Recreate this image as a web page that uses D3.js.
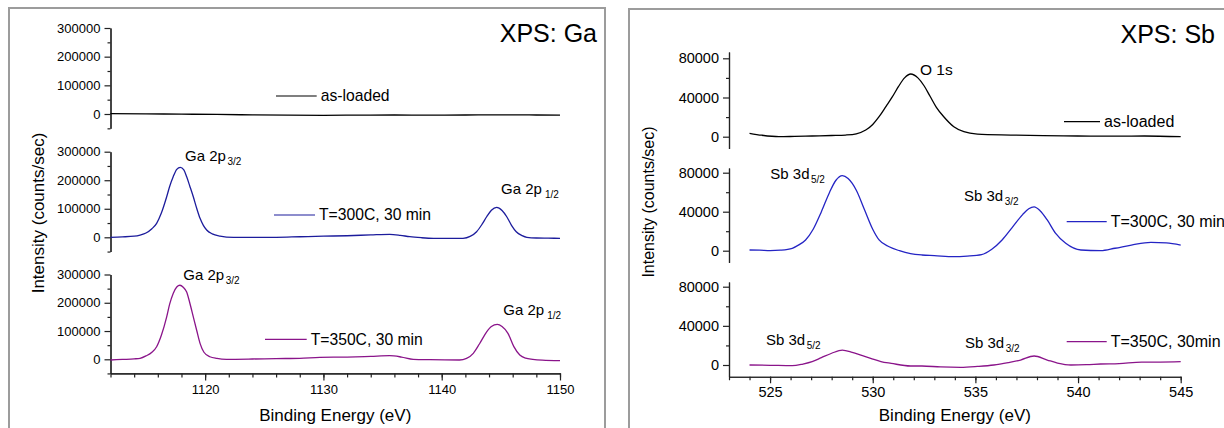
<!DOCTYPE html>
<html><head><meta charset="utf-8">
<script src="https://cdn.jsdelivr.net/npm/d3@7"></script>
<style>
body{margin:0;background:#fff}
svg{display:block}
text{font-family:"Liberation Sans",Arial,sans-serif;fill:#000}
</style>
</head><body>
<svg id="c" width="1224" height="428"></svg>
<script>
// ---------------- DATA ----------------
// Ga panel (binding energy in eV, intensity in counts/sec)
const gaTicksX = [1120, 1130, 1140, 1150];
const gaTicksY = [0, 100000, 200000, 300000];
const gaAsLoadedE = [1112, 1115, 1118, 1121, 1124, 1127, 1130, 1133, 1136, 1139, 1142, 1145, 1148, 1150];
const gaAsLoadedI = [1500, 500, -500, -1500, -3000, -4000, -4500, -4000, -3500, -4000, -3500, -3000, -3500, -4000];
const ga300E = [1112, 1113, 1114, 1114.5, 1115, 1115.5, 1115.9, 1116.3, 1116.75, 1117, 1117.3, 1117.6, 1117.9, 1118.2, 1118.44, 1118.7, 1119, 1119.3, 1119.57, 1119.85, 1120.13, 1120.6, 1121.26, 1122.4, 1124, 1126, 1128, 1130, 1132, 1134, 1135.6, 1136.5, 1137.3, 1138.3, 1139.3, 1141, 1141.8, 1142.4, 1142.95, 1143.4, 1143.8, 1144.2, 1144.65, 1145.1, 1145.5, 1145.9, 1146.3, 1146.8, 1147.2, 1148, 1149, 1150];
const ga300I = [0, 1500, 4000, 8000, 15000, 30000, 49000, 85000, 142000, 178000, 212000, 238000, 245000, 236000, 212000, 180000, 142000, 100000, 66500, 42000, 25600, 12000, 4500, 0, -500, 0, 2000, 4000, 5500, 8500, 10500, 7000, 2000, -1500, -3500, -4000, -3500, 3000, 19600, 45000, 72000, 95000, 105000, 94000, 72000, 42000, 19600, 6000, 0, -2500, -3000, -3500];
const ga350E = [1112, 1113, 1114, 1114.5, 1115, 1115.5, 1115.9, 1116.3, 1116.75, 1117, 1117.3, 1117.6, 1117.87, 1118.15, 1118.44, 1118.7, 1119, 1119.3, 1119.57, 1119.9, 1120.4, 1121, 1121.8, 1124, 1126, 1128, 1129.7, 1132, 1134, 1135.6, 1136.6, 1137.6, 1139, 1141.5, 1142.1, 1142.67, 1143.2, 1143.8, 1144.2, 1144.7, 1145.1, 1145.6, 1146.1, 1146.6, 1147.1, 1147.7, 1148.5, 1150];
const ga350I = [-2500, -500, 1500, 3500, 12000, 25000, 44500, 85000, 150000, 195000, 233000, 256000, 262000, 255000, 238000, 200000, 150000, 100000, 56500, 25000, 9000, 3000, 0, 1000, 2500, 3500, 7000, 8000, 10500, 12700, 8000, 0, -1500, -2500, 3000, 21000, 55000, 97000, 116000, 123500, 116000, 92000, 45000, 15000, 4000, 0, -3000, -5000];

// Sb panel
const sbTicksX = [525, 530, 535, 540, 545];
const sbTicksY = [0, 40000, 80000];
const sbAsLoadedE = [524, 524.6, 525.43, 526.2, 527.05, 528, 528.68, 529.2, 529.66, 530.0, 530.31, 530.65, 530.96, 531.25, 531.55, 531.85, 532.2, 532.5, 532.8, 533.1, 533.46, 533.95, 534.44, 535.1, 536.72, 538.3, 539.98, 541.6, 543.23, 545];
const sbAsLoadedI = [3500, 1500, 0, 300, 700, 1200, 1700, 3000, 6800, 12500, 20400, 31000, 40800, 51000, 60000, 64000, 60000, 52000, 41000, 30000, 20400, 10200, 5100, 2700, 1700, 1000, 700, 500, 700, 0];
const sb300E = [524, 524.5, 525, 525.5, 526.08, 526.4, 526.73, 527.1, 527.5, 527.9, 528.2, 528.52, 528.8, 529.2, 529.6, 530, 530.31, 530.8, 531.3, 531.84, 532.4, 533, 533.95, 534.6, 535.3, 535.8, 536.3, 536.8, 537.3, 537.6, 537.86, 538.15, 538.5, 538.9, 539.4, 540.14, 541.1, 541.8, 542.6, 543.55, 544.3, 545];
const sb300I = [700, 500, 0, 500, 2500, 6000, 11000, 22000, 40000, 60000, 72000, 77000, 74000, 62000, 42000, 22000, 11000, 4000, 0, -3000, -4400, -5000, -6100, -5500, -4000, 1500, 11000, 24000, 37000, 43000, 45000, 41000, 31500, 18000, 7600, 700, 0, 2500, 5800, 8600, 8000, 5800];
const sb350E = [524, 525, 526.08, 526.6, 527.05, 527.5, 528, 528.52, 529, 529.5, 529.9, 530.4, 530.9, 531.84, 532.4, 533.3, 534.28, 535.1, 535.9, 536.6, 537.2, 537.86, 538.5, 539, 539.65, 540.4, 541.1, 542, 543.1, 544, 545];
const sb350I = [0, -300, -700, 1000, 3400, 7500, 12000, 15300, 13000, 9500, 6800, 3500, 1700, -1000, -1000, -2000, -2400, -1500, 0, 2500, 5100, 9200, 5100, 2000, 0, 300, 1000, 1500, 3000, 3000, 3400];

const legendLabels = ["as-loaded", "T=300C, 30 min", "T=350C, 30 min", "T=350C, 30min"];
const yTitle = "Intensity (counts/sec)";
const xTitle = "Binding Energy (eV)";

// ---------------- DRAWING ----------------
const svg = d3.select('#c');
const FONT = '"Liberation Sans",Arial,sans-serif';
const AX = '#222';

// panel frames
svg.append('rect').attr('x', 9).attr('y', 8).attr('width', 596).attr('height', 440)
  .attr('fill', 'none').attr('stroke', '#9c9c9c').attr('stroke-width', 2);
svg.append('rect').attr('x', 629).attr('y', 9).attr('width', 640).attr('height', 440)
  .attr('fill', 'none').attr('stroke', '#9c9c9c').attr('stroke-width', 2);

function zip(E, I) { return E.map((e, i) => [e, I[i]]); }

function yAxis(x0, y, majors, minors, fs, pad, fmt) {
  const gm = svg.append('g').attr('transform', `translate(${x0},0)`);
  gm.call(d3.axisLeft(y).tickValues(minors).tickSize(3).tickSizeOuter(0).tickFormat(''));
  const g = svg.append('g').attr('transform', `translate(${x0},0)`);
  g.call(d3.axisLeft(y).tickValues(majors).tickSize(6).tickSizeOuter(0).tickPadding(pad).tickFormat(fmt));
  [gm, g].forEach(s => {
    s.selectAll('path,line').attr('stroke', AX).attr('stroke-width', 1.2);
    s.selectAll('text').attr('font-size', fs).attr('font-family', FONT).attr('fill', '#000');
  });
}

function xAxis(y0, x, majors, minors, fs, majLen, minLen, pad) {
  const gm = svg.append('g').attr('transform', `translate(0,${y0})`);
  gm.call(d3.axisBottom(x).tickValues(minors).tickSize(minLen).tickSizeOuter(0).tickFormat(''));
  const g = svg.append('g').attr('transform', `translate(0,${y0})`);
  g.call(d3.axisBottom(x).tickValues(majors).tickSize(majLen).tickSizeOuter(0).tickPadding(pad).tickFormat(d3.format('d')));
  [gm, g].forEach(s => {
    s.selectAll('path,line').attr('stroke', AX).attr('stroke-width', 1.2);
    s.selectAll('text').attr('font-size', fs).attr('font-family', FONT).attr('fill', '#000');
  });
}

function series(x, y, E, I, color) {
  svg.append('path').datum(zip(E, I))
    .attr('fill', 'none').attr('stroke', color).attr('stroke-width', 1.3)
    .attr('d', d3.line().x(d => x(d[0])).y(d => y(d[1])).curve(d3.curveMonotoneX));
}

function legend(x1, x2, y, color, label, fs) {
  svg.append('line').attr('x1', x1).attr('x2', x2).attr('y1', y).attr('y2', y)
    .attr('stroke', color).attr('stroke-width', 1.2);
  svg.append('text').attr('x', x2 + 4).attr('y', y).attr('dy', '0.35em')
    .attr('font-size', fs).text(label);
}

function peakLabel(x, y, main, sub, fs, subfs, dx) {
  const t = svg.append('text').attr('x', x).attr('y', y).attr('font-size', fs).text(main);
  if (sub) t.append('tspan').attr('dx', dx).attr('dy', 4).attr('font-size', subfs).text(sub);
}

const black = '#000000', blue1 = '#1c1c9c', blue2 = '#2424c4', purple = '#8a148a';

// ---- Ga panel ----
const xGa = d3.scaleLinear().domain([1112, 1150]).range([110.5, 560]);
const gaMinorX = d3.range(1112, 1151, 2);
const gaMinorY = [-50000, 50000, 150000, 250000];
const gaSubs = [
  { y0: 114, y300: 28, E: gaAsLoadedE, I: gaAsLoadedI, c: black },
  { y0: 237.3, y300: 151.7, E: ga300E, I: ga300I, c: blue1 },
  { y0: 359.3, y300: 274.5, E: ga350E, I: ga350I, c: purple }
];
gaSubs.forEach(s => {
  const y = d3.scaleLinear().domain([0, 300000]).range([s.y0, s.y300]);
  const yy = d3.scaleLinear().domain([-50000, 300000]).range([y(-50000), s.y300]);
  yAxis(110.5, yy, gaTicksY, gaMinorY, 13, 4, d3.format('d'));
  series(xGa, yy, s.E, s.I, s.c);
  s.y = yy;
});
xAxis(gaSubs[2].y(-50000), xGa, gaTicksX, gaMinorX, 13, 7, 4, 4);

legend(276, 316.7, 96, black, legendLabels[0], 15.7);
legend(274, 315, 215, blue1, legendLabels[1], 15.7);
legend(265, 306.7, 339.3, purple, legendLabels[2], 15.7);

peakLabel(185, 161, 'Ga 2p', '3/2', 15, 10, 1.5);
peakLabel(501, 193.5, 'Ga 2p', '1/2', 15, 10, 3);
peakLabel(183.3, 280, 'Ga 2p', '3/2', 15, 10, 1.5);
peakLabel(503.3, 315, 'Ga 2p', '1/2', 15, 10, 3);

svg.append('text').attr('x', 597).attr('y', 42).attr('text-anchor', 'end')
  .attr('font-size', 25).text('XPS: Ga');
svg.append('text').attr('transform', 'translate(44,213) rotate(-90)')
  .attr('text-anchor', 'middle').attr('font-size', 17).text(yTitle);
svg.append('text').attr('x', (110.5 + 560) / 2).attr('y', 421)
  .attr('text-anchor', 'middle').attr('font-size', 17).text(xTitle);

// ---- Sb panel ----
const xSb = d3.scaleLinear().domain([523, 545]).range([729, 1180.7]);
const sbMinorX = d3.range(523, 545.5, 1);
const sbMinorY = [20000, 60000];
const sbSubs = [
  { y0: 136.7, y80: 58.3, top: 52, E: sbAsLoadedE, I: sbAsLoadedI, c: black },
  { y0: 250.7, y80: 172.7, top: 168, E: sb300E, I: sb300I, c: blue2 },
  { y0: 365, y80: 286.7, top: 282, E: sb350E, I: sb350I, c: purple }
];
sbSubs.forEach(s => {
  const y = d3.scaleLinear().domain([0, 80000]).range([s.y0, s.y80]);
  const yy = d3.scaleLinear().domain([-12000, y.invert(s.top)]).range([y(-12000), s.top]);
  yAxis(729, yy, sbTicksY, sbMinorY, 14.5, 4, d3.format('d'));
  series(xSb, yy, s.E, s.I, s.c);
  s.y = yy;
});
xAxis(sbSubs[2].y(-12000), xSb, sbTicksX, sbMinorX, 14.5, 6.5, 3.5, 3.5);

legend(1064, 1100, 121.7, black, legendLabels[0], 16);
legend(1066.7, 1106.7, 221.7, blue2, legendLabels[1], 16);
legend(1066.7, 1106.7, 341.7, purple, legendLabels[3], 16);

peakLabel(920, 75, 'O 1s', null, 15.5);
peakLabel(770.3, 179.3, 'Sb 3d', '5/2', 15, 10, 1.5);
peakLabel(964, 200.7, 'Sb 3d', '3/2', 15, 10, 1.5);
peakLabel(766, 345, 'Sb 3d', '5/2', 15, 10, 1.5);
peakLabel(965, 348.3, 'Sb 3d', '3/2', 15, 10, 1.5);

svg.append('text').attr('x', 1215).attr('y', 43).attr('text-anchor', 'end')
  .attr('font-size', 25).text('XPS: Sb');
svg.append('text').attr('transform', 'translate(654,202) rotate(-90)')
  .attr('text-anchor', 'middle').attr('font-size', 16).text(yTitle);
svg.append('text').attr('x', (729 + 1180.7) / 2).attr('y', 421)
  .attr('text-anchor', 'middle').attr('font-size', 17).text(xTitle);
</script>
</body></html>
